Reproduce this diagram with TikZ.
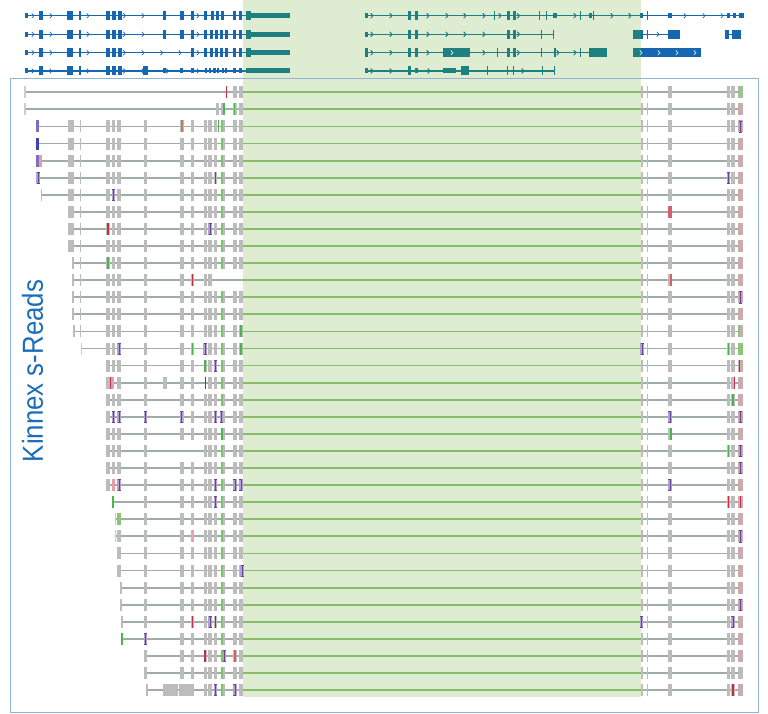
\documentclass[tikz,border=0pt]{standalone}
\usepackage{fontspec}
\setmainfont{Liberation Sans}
\usepackage{graphicx}
\definecolor{hlc}{RGB}{222,237,209}
\definecolor{intrc}{RGB}{160,173,167}
\definecolor{intrgc}{RGB}{134,188,106}
\definecolor{exg}{RGB}{188,188,188}
\definecolor{exlg}{RGB}{205,205,205}
\definecolor{exgr}{RGB}{128,192,112}
\definecolor{expk}{RGB}{203,172,174}
\definecolor{mred}{RGB}{200,45,70}
\definecolor{mredl}{RGB}{215,95,110}
\definecolor{mgrn}{RGB}{72,182,72}
\definecolor{mgrnl}{RGB}{140,196,120}
\definecolor{mgrnm}{RGB}{160,192,150}
\definecolor{mpink}{RGB}{228,158,166}
\definecolor{morg}{RGB}{190,125,90}
\definecolor{mblue}{RGB}{62,66,175}
\definecolor{mpur}{RGB}{128,108,190}
\definecolor{ipf}{RGB}{178,160,208}
\definecolor{ipd}{RGB}{100,72,150}
\definecolor{gblue}{RGB}{22,103,178}
\definecolor{gteal}{RGB}{30,128,128}
\definecolor{boxc}{RGB}{148,180,206}
\definecolor{lblue}{RGB}{28,110,186}
% exon columns: name, x, width, colour
\newcommand\defex[4]{\expandafter\def\csname exx#1\endcsname{#2}\expandafter\def\csname exw#1\endcsname{#3}\expandafter\def\csname exc#1\endcsname{#4}}
\defex{B}{67.5}{6}{exg}
\defex{C}{79.5}{1.6}{exg}
\defex{D}{106}{3.5}{exg}
\defex{E}{111.7}{3.5}{exg}
\defex{F}{117.3}{3.5}{exg}
\defex{G}{144}{3.3}{exg}
\defex{H}{179.5}{4.5}{exg}
\defex{I}{190.8}{3.2}{exg}
\defex{J}{203.5}{3}{exg}
\defex{K}{208.3}{3.5}{exg}
\defex{L}{214}{3.3}{exg}
\defex{M}{220.5}{2.4}{exgr}
\defex{N}{223.2}{2.2}{exg}
\defex{O}{233.3}{3.3}{exg}
\defex{P}{239.3}{3.3}{exg}
\defex{Q}{640.7}{1.8}{exg}
\defex{R}{646.7}{1.6}{exg}
\defex{S}{667.7}{4.5}{exg}
\defex{T}{726.7}{3.3}{exg}
\defex{U}{731.3}{3.3}{exg}
\defex{V}{738}{4.8}{expk}
\newcommand\cy{0}
\newcommand\Ex[1]{\edef\myx{\csname exx#1\endcsname}\edef\myw{\csname exw#1\endcsname}\edef\myc{\csname exc#1\endcsname}\fill[fill=\myc] (\myx,\cy-6) rectangle ++(\myw,12);}
\newcommand\Rrow[4]{\pgfmathsetmacro\cy{92.3+17.08*#1}%
 \draw[intron] (#2,\cy) -- (243,\cy);
 \draw[introng] (243,\cy) -- (641,\cy);
 \draw[intron] (641,\cy) -- (743,\cy);
 \foreach \k in {#3} {\Ex{\k}}
 \foreach \k in {#4} {\Ex{\k}}}
\newcommand\Mblk[3]{\fill[fill=#1] (#2,\cy-6) rectangle ++(#3,12);}
\newcommand\Mline[2]{\fill[fill=#1] (#2-0.75,\cy-6) rectangle ++(1.5,12);}
\newcommand\Mins[1]{\fill[ipf] (#1-1.7,\cy-6) rectangle ++(3.4,12);
 \draw[ipd,line width=0.7] (#1-1.5,\cy-5.6) -- (#1+1.5,\cy-5.6) (#1,\cy-5.6) -- (#1,\cy+5.6) (#1-1.5,\cy+5.6) -- (#1+1.5,\cy+5.6);}
\newcommand\Ecen[1]{\edef\myxa{\csname exx#1\endcsname}\edef\mywa{\csname exw#1\endcsname}\pgfmathsetmacro\myxc{\myxa+0.5*\mywa}}
\newcommand\Eins[1]{\Ecen{#1}\Mins{\myxc}}
\newcommand\Eline[2]{\Ecen{#2}\Mline{#1}{\myxc}}
\newcommand\Ecol[2]{\edef\myx{\csname exx#2\endcsname}\edef\myw{\csname exw#2\endcsname}\Mblk{#1}{\myx}{\myw}}
% gene track helpers
\newcommand\gy{0}
\newcommand\Gline[2]{\draw[line width=1.3] (#1,\gy) -- (#2,\gy);}
\newcommand\Gblk[3]{\fill (#1,\gy-#3/2) rectangle (#2,\gy+#3/2);}
\newcommand\Gchev[1]{\draw[line width=0.7] (#1-1.2,\gy-2.4) -- (#1+1,\gy) -- (#1-1.2,\gy+2.4);}
\newcommand\Gwchev[1]{\draw[white,line width=0.6] (#1-1.1,\gy-2.2) -- (#1+0.9,\gy) -- (#1-1.1,\gy+2.2);}
\newcommand\Gtick[1]{\draw[line width=0.9] (#1,\gy-4.5) -- (#1,\gy+4.5);}
\newcommand\Gleftcore{\Gline{25}{246}\Gblk{24.5}{28}{5}\Gchev{33}\Gblk{38.5}{43}{9}\Gchev{51}\Gblk{67}{73}{9}\Gblk{79}{81}{9}\Gchev{88}\Gblk{106}{109.5}{9}\Gblk{112}{115.5}{9}\Gblk{118}{121.5}{9}\Gchev{124.5}\Gchev{143}}
\newcommand\allgenes{%
 % transcript 1
 \renewcommand\gy{15.7}
 \Gleftcore
 \Gblk{162.5}{166}{9}\Gblk{180}{183.5}{9}\Gblk{191}{194}{9}\Gchev{198}\Gblk{204}{207}{9}\Gblk{210.5}{213.5}{9}\Gblk{215.5}{218.5}{9}\Gblk{221}{224}{9}\Gblk{233}{236}{9}\Gblk{239}{242}{9}\Gblk{245.5}{251}{9}\Gblk{251}{290}{5}
 \Gline{365}{744}
 \Gblk{365}{368}{5}\Gchev{372}\Gchev{391}\Gblk{408}{411}{9}\Gblk{415}{418}{9}\Gchev{428}\Gchev{447}\Gchev{465}\Gchev{484}\Gtick{494.5}\Gchev{500}\Gblk{507}{509.5}{9}\Gblk{513}{515.5}{9}\Gchev{518.5}\Gtick{539}\Gtick{546}\Gblk{553}{557}{5}\Gchev{575}\Gtick{580}\Gblk{588.5}{592}{5}\Gtick{593.5}\Gchev{612}\Gchev{630}
 \Gblk{640}{642.5}{5}\Gtick{647}\Gblk{668}{672}{5}\Gchev{685}\Gchev{704}\Gchev{722}\Gblk{726.5}{729.5}{5}\Gblk{732.5}{735.5}{5}\Gblk{738.5}{743.5}{5}
 % transcript 2
 \renewcommand\gy{34.3}
 \Gleftcore
 \Gblk{162.5}{166}{9}\Gblk{180}{183.5}{9}\Gblk{191}{194}{9}\Gchev{198}\Gblk{204}{207}{9}\Gblk{209.5}{212.5}{9}\Gblk{215}{218}{9}\Gblk{220}{222.5}{9}\Gblk{225}{227.5}{9}\Gblk{233}{236}{9}\Gblk{239}{242}{9}\Gblk{245.5}{251}{9}\Gblk{251}{290}{5}
 \Gline{365}{553}
 \Gblk{365}{368}{5}\Gchev{372}\Gchev{391}\Gblk{408}{411}{9}\Gblk{415}{418}{9}\Gchev{428}\Gchev{447}\Gchev{465}\Gchev{484}\Gblk{507}{509.5}{9}\Gblk{513}{515.5}{9}\Gchev{518.5}\Gtick{541.5}\Gtick{553}
 \Gline{642}{668}\Gblk{632.5}{642.5}{9}\Gtick{647}\Gchev{658}\Gblk{668}{680}{9}
 \Gline{729}{732}\Gblk{725}{729}{9}\Gblk{732}{741}{9}
 % transcript 3
 \renewcommand\gy{52.7}
 \Gleftcore
 \Gchev{161.7}\Gchev{180}\Gblk{191}{194}{9}\Gchev{198}\Gblk{204}{207}{9}\Gblk{209.5}{212.5}{9}\Gblk{215}{218}{9}\Gblk{220}{222.5}{9}\Gblk{225}{227.5}{9}\Gblk{233}{236}{9}\Gblk{239}{242}{9}\Gblk{245.5}{251}{9}\Gblk{251}{290}{5}
 \Gline{365}{607}
 \Gblk{365}{367.5}{9}\Gchev{372}\Gchev{391}\Gblk{408}{411}{9}\Gblk{415}{418}{9}\Gchev{428}\Gblk{443.3}{470}{9}\Gwchev{452}\Gchev{484}\Gtick{497}\Gblk{507}{509.5}{9}\Gblk{513}{515.5}{9}\Gchev{518.5}\Gtick{541.5}\Gblk{554}{555.5}{9}\Gchev{558}\Gchev{575}\Gtick{580.5}\Gblk{589}{607.3}{9}
 \Gblk{632.7}{700.7}{9}\Gwchev{641}\Gwchev{659}\Gwchev{677}\Gwchev{695}
 % transcript 4
 \renewcommand\gy{71}
 \Gleftcore
 \Gblk{143.3}{147.7}{9}\Gblk{162.7}{165.5}{5}\Gchev{167.5}\Gblk{180}{183.3}{5}\Gblk{191}{194.3}{5}\Gchev{198}\Gblk{204.5}{207}{5}\Gblk{208.5}{211}{5}\Gblk{213}{215.7}{5}\Gblk{217}{219}{5}\Gblk{221.7}{223.5}{5}\Gblk{225}{227}{5}\Gblk{233}{235.5}{5}\Gblk{238.5}{241.7}{5}\Gblk{245.5}{290}{5}
 \Gline{365}{555}
 \Gblk{365}{367.5}{5}\Gchev{372}\Gchev{391}\Gblk{408}{411}{9}\Gblk{415}{418}{5}\Gchev{429}\Gblk{443.3}{456}{5}\Gblk{460.7}{469.3}{9}\Gtick{487.5}\Gtick{507}\Gtick{513.3}\Gchev{523}\Gtick{542}\Gtick{554}
}
\begin{document}
\begin{tikzpicture}[x=1pt,y=-1pt,
  intron/.style={draw=intrc,line width=1.8},
  introng/.style={draw=intrgc,line width=1.8}]
\useasboundingbox (0,0) rectangle (768,714);
\fill[white] (0,0) rectangle (768,714);
% highlighted region
\fill[hlc] (243,0) rectangle (641,697);
% gene models
\begin{scope}[color=gblue]\allgenes\end{scope}
\begin{scope}
 \clip (243,0) rectangle (641,80);
 \begin{scope}[color=gteal]\allgenes\end{scope}
\end{scope}
% reads
\Rrow{0}{25}{O,P}{Q,R,S,T,U,V}\Mblk{exlg}{24.2}{1.6}\Mline{mred}{226.5}\Ecol{mgrnm}{V}
\Rrow{1}{25}{O,P}{Q,R,S,T,U,V}\Mblk{exlg}{24.2}{1.6}\Mblk{exg}{216}{3}\Mblk{exg}{221.3}{2}\Mblk{mgrn}{223.4}{1.6}\Mline{mgrn}{234.7}
\Rrow{2}{36}{B,C,D,E,F,G,H,I,J,K,L,M,N,O,P}{Q,R,S,T,U,V}\Mblk{mpur}{36}{3.3}\Eline{morg}{H}\Mline{mgrn}{218.3}\Eins{V}
\Rrow{3}{36}{B,C,D,E,F,G,H,I,J,K,L,M,N,O,P}{Q,R,S,T,U,V}\Mblk{mblue}{36}{3}
\Rrow{4}{36}{B,C,D,E,F,G,H,I,J,K,L,M,N,O,P}{Q,R,S,T,U,V}\Mblk{mpur}{36}{3.2}\Mblk{mpink}{39.2}{3.2}
\Rrow{5}{36}{B,C,D,E,F,G,H,I,J,K,L,M,N,O,P}{Q,R,S,T,U,V}\Mins{38}\Mline{mred}{215.5}\Eins{T}
\Rrow{6}{41}{B,C,D,E,F,G,H,I,J,K,L,M,N,O,P}{Q,R,S,T,U,V}\Mblk{exg}{40.5}{1.5}\Eins{E}
\Rrow{7}{67.5}{B,C,D,E,F,G,H,I,J,K,L,M,N,O,P}{Q,R,S,T,U,V}\Ecol{mredl}{S}
\Rrow{8}{68.5}{B,C,D,E,F,G,H,I,J,K,L,M,N,O,P}{Q,R,S,T,U,V}\Eline{mred}{D}\Eins{K}
\Rrow{9}{70}{B,C,D,E,F,G,H,I,J,K,L,M,N,O,P}{Q,R,S,T,U,V}
\Rrow{10}{71.7}{C,D,E,F,G,H,I,J,K,L,M,N,O,P}{Q,R,S,T,U,V}\Mblk{exg}{71.7}{2.3}\Eline{mgrn}{D}
\Rrow{11}{72}{C,D,E,F,G,H,I,J,K}{Q,R,S,T,U,V}\Mblk{exg}{72}{2.2}\Eline{mred}{I}\Mblk{mredl}{670}{2.2}
\Rrow{12}{72}{C,D,E,F,G,H,I,J,K,L,M,N,O,P}{Q,R,S,T,U,V}\Mblk{exg}{72}{2.2}\Eins{V}
\Rrow{13}{72}{C,D,E,F,G,H,I,J,K,L,M,N,O,P}{Q,R,S,T,U,V}\Mblk{exg}{72}{2.2}
\Rrow{14}{72.7}{C,D,E,F,G,H,I,J,K,L,M,N,O,P}{Q,R,S,T,U,V}\Mblk{exg}{72.7}{2.2}\Eline{mgrn}{P}\Mline{mgrnl}{738.8}
\Rrow{15}{81}{D,E,F,G,H,I,J,K,L,M,N,O,P}{Q,R,S,T,U,V}\Mblk{exlg}{80.5}{1.4}\Eins{F}\Eline{mgrn}{I}\Eins{J}\Eline{mgrn}{P}\Mins{642}\Eline{mgrn}{T}\Ecol{mgrnl}{V}
\Rrow{16}{106}{D,E,F,G,H,I,J,K,L,M,N,O,P}{Q,R,S,T,U,V}\Eline{mgrn}{J}\Eins{L}\Mline{mred}{739.5}
\Rrow{17}{106}{D,F,G,H,I,K,L,M,N,O,P}{Q,R,S,T,U,V}\Mblk{mred}{109.5}{1.2}\Mblk{mpink}{110.7}{3.3}\Mblk{exg}{163.3}{3.4}\Mline{mblue}{205.3}\Mline{mred}{734.3}
\Rrow{18}{107}{D,E,F,G,H,I,J,K,L,M,N,O,P}{Q,R,S,T,U,V}\Eline{mgrn}{U}
\Rrow{19}{108}{D,E,F,G,H,I,J,K,L,M,N,O,P}{Q,R,S,T,U,V}\Eins{E}\Eins{F}\Eins{G}\Eins{H}\Eins{L}\Eins{M}\Eins{S}\Eins{V}
\Rrow{20}{109}{D,E,F,G,H,I,J,K,L,M,N,O,P}{Q,R,S,T,U,V}\Ecol{mgrn}{M}\Mline{mgrn}{671}
\Rrow{21}{109}{D,E,F,G,J,K,L,M,N,O,P}{Q,R,S,T,U,V}\Eline{mgrn}{T}\Eins{V}
\Rrow{22}{110}{D,E,F,G,H,I,J,K,L,M,N,O,P}{Q,R,S,T,U,V}\Eins{V}
\Rrow{23}{110}{D,E,F,G,H,I,J,K,L,M,N,O,P}{Q,R,S,T,U,V}\Ecol{mpink}{E}\Eins{F}\Eins{L}\Eins{O}\Eins{P}\Eins{S}
\Rrow{24}{112.7}{G,H,I,J,K,L,M,N,O,P}{Q,R,S,T,U,V}\Mblk{mgrn}{112.2}{1.5}\Eins{L}\Eline{mred}{T}\Eline{mred}{V}
\Rrow{25}{115}{F,G,H,I,J,K,L,M,N,O,P}{Q,R,S,T,U,V}\Mblk{exlg}{114.5}{1.5}\Ecol{mgrnl}{F}
\Rrow{26}{115}{F,G,H,I,J,K,L,M,N,O,P}{Q,R,S,T,U,V}\Mblk{exlg}{114.5}{1.5}\Eline{mpink}{I}\Eins{V}
\Rrow{27}{118}{F,G,H,I,J,K,L,M,N,O,P}{Q,R,S,T,U,V}
\Rrow{28}{118}{F,G,H,I,J,K,L,M,N,O,P}{Q,R,S,T,U,V}\Mins{242}
\Rrow{29}{120.5}{G,H,I,J,K,L,M,N,O,P}{Q,R,S,T,U,V}\Mblk{exg}{120}{1.5}
\Rrow{30}{120.7}{G,H,I,J,K,L,M,N,O,P}{Q,R,S,T,U,V}\Mblk{exg}{120.2}{1.5}\Eins{V}
\Rrow{31}{121.5}{G,H,I,J,K,L,M,N,O,P}{Q,R,S,T,U,V}\Mblk{exg}{121}{1.5}\Eline{mred}{I}\Eins{K}\Mline{mblue}{215.5}\Mins{641.5}\Eins{U}
\Rrow{32}{121.7}{G,H,I,J,K,L,M,N,O,P}{Q,R,S,T,U,V}\Mblk{mgrn}{121.2}{1.5}\Eins{G}
\Rrow{33}{145}{G,H,I,J,K,L,M,N,O,P}{Q,R,S,T,U,V}\Eline{mred}{J}\Eins{N}\Eline{mredl}{O}
\Rrow{34}{146}{G,H,I,J,K,L,M,N,O,P}{Q,R,S,T,U,V}\Ecol{exg}{V}
\Rrow{35}{146.7}{J,K,L,M,N,O,P}{Q,R,S,T,U,V}\Mblk{exg}{146.3}{1.5}\Mblk{exg}{163.3}{15}\Mblk{exg}{178.6}{15.4}\Eins{L}\Eins{O}\Eline{mred}{U}
% panel frame
\draw[boxc,line width=1] (10.5,78.7) rectangle (758.8,712.8);
% label
\node[rotate=90,text=lblue,font=\fontsize{29}{30}\selectfont] (lbl) at (32.5,371) {\scalebox{0.89}[1]{Kinnex s-Reads}};
\end{tikzpicture}
\end{document}
